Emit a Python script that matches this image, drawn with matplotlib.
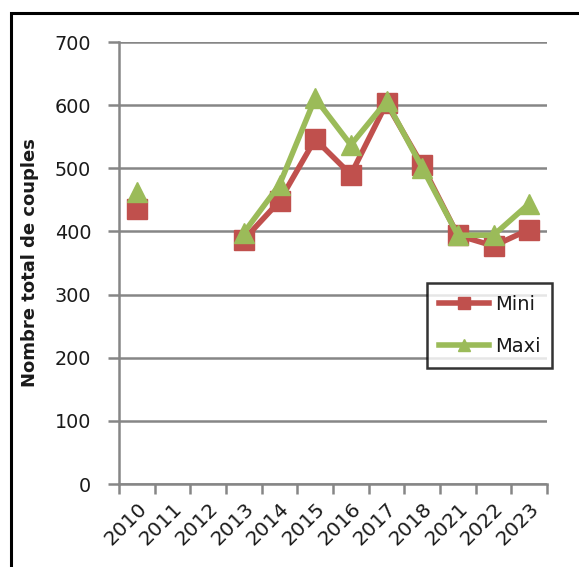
import matplotlib
matplotlib.use("Agg")
import matplotlib.pyplot as plt
import numpy as np
from matplotlib.patches import Rectangle

years = ["2010", "2011", "2012", "2013", "2014", "2015", "2016", "2017", "2018", "2021", "2022", "2023"]
mini = [435, None, None, 387, 448, 546, 490, 603, 505, 394, 377, 403]
maxi = [462, None, None, 398, 474, 611, 537, 606, 501, 394, 394, 444]
yticks = [0, 100, 200, 300, 400, 500, 600, 700]

plt.rcParams['font.family'] = ['DejaVu Sans']

W, H = 579, 567
fig = plt.figure(figsize=(W / 100, H / 100), dpi=100)
fig.patches.append(Rectangle((11 / W, -0.1), 1.2, 1 - 13 / H + 0.1, transform=fig.transFigure,
                             fill=False, edgecolor='black', linewidth=2.2))

ax = fig.add_axes([119 / W, (H - 484) / H, 428 / W, 442 / H])
x = np.arange(len(years))
mini_a = np.array([np.nan if v is None else v for v in mini], dtype=float)
maxi_a = np.array([np.nan if v is None else v for v in maxi], dtype=float)

red = '#C0504D'
green = '#9BBB59'
ax.plot(x, mini_a, color=red, lw=4, marker='s', ms=14, mec=red, mfc=red, label='Mini', zorder=3)
ax.plot(x, maxi_a, color=green, lw=4, marker='^', ms=14, mec=green, mfc=green, label='Maxi', zorder=4)

gray = '#868686'
txt = '#1a1a1a'
ax.set_xlim(-0.5, len(years) - 0.5)
ax.set_ylim(0, 700)
ax.set_yticks(yticks)
ax.set_yticklabels([str(v) for v in yticks])
ax.yaxis.grid(True, color=gray, lw=1.8)
ax.set_axisbelow(True)
for s in ['top', 'right']:
    ax.spines[s].set_visible(False)
for s in ['left', 'bottom']:
    ax.spines[s].set_color(gray)
    ax.spines[s].set_linewidth(1.8)
ax.tick_params(axis='y', direction='out', length=8, width=1.8, color=gray, labelsize=13.8, pad=12, labelcolor=txt)

ax.set_xticks(np.arange(-0.5, len(years)), minor=False)
ax.set_xticklabels([''] * (len(years) + 1))
ax.tick_params(axis='x', which='major', direction='out', length=7, width=1.8, color=gray)
ax.set_xticks(x, minor=True)
ax.set_xticklabels(years, minor=True, rotation=45, ha='right', rotation_mode='anchor', fontsize=14.5, color=txt)
ax.tick_params(axis='x', which='minor', length=0, pad=11)

ax.set_ylabel('Nombre total de couples', fontsize=13, fontweight='bold', labelpad=11, color=txt)

leg = ax.legend(loc='upper left', bbox_to_anchor=((427 - 119) / 428, (484 - 283) / 442),
                frameon=True, fancybox=False, edgecolor='black', fontsize=14,
                handlelength=2.6, markerscale=0.6, borderpad=0.6, labelspacing=1.2,
                handletextpad=0.3, borderaxespad=0)
leg.get_frame().set_linewidth(1.8)
for t in leg.get_texts():
    t.set_color(txt)

fig.savefig('out.png', dpi=100)
